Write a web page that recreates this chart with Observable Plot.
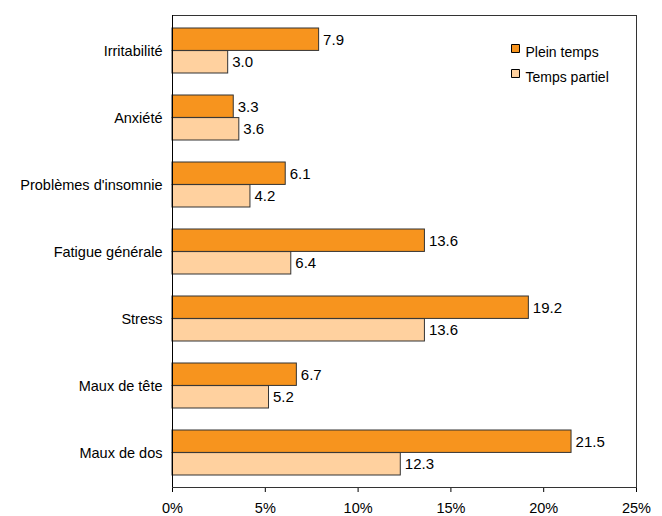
<!DOCTYPE html>
<html>
<head>
<meta charset="utf-8">
<script src="https://cdn.jsdelivr.net/npm/d3@7"></script>
<script src="https://cdn.jsdelivr.net/npm/@observablehq/plot@0.6"></script>
<style>
  html, body { margin: 0; padding: 0; background: #fff; }
</style>
</head>
<body>
<div id="chart"></div>
<script>
const categories = ["Irritabilité", "Anxiété", "Problèmes d'insomnie", "Fatigue générale", "Stress", "Maux de tête", "Maux de dos"];
const series = ["Plein temps", "Temps partiel"];
const pleinTemps = [7.9, 3.3, 6.1, 13.6, 19.2, 6.7, 21.5];
const tempsPartiel = [3.0, 3.6, 4.2, 6.4, 13.6, 5.2, 12.3];
const xTicks = [0, 5, 10, 15, 20, 25];
const colors = ["#F7941E", "#FFD19F"];

const rows = [];
categories.forEach((c, i) => {
  rows.push({category: c, series: series[0], value: pleinTemps[i]});
  rows.push({category: c, series: series[1], value: tempsPartiel[i]});
});
const full = rows.filter(d => d.series === series[0]);
const part = rows.filter(d => d.series === series[1]);

const W = 662, H = 516;
const mt = 15, mb = 29;
const innerH = H - mt - mb;
const step = innerH / categories.length;
const bandH = step * (1 - 0.33);
const half = bandH / 2;

const legendMarks = series.flatMap((s, i) => [
  Plot.dot([s], {frameAnchor: "top-right", dx: -121, dy: 33 + 25 * i, symbol: "square", r: 4.5, fill: d => d, stroke: "#000", strokeWidth: 1}),
  Plot.text([s], {frameAnchor: "top-right", dx: -111, dy: 32 + 25 * i, text: d => d, textAnchor: "start", fontSize: 14, fill: "#000"})
]);

const chart = Plot.plot({
  width: W,
  height: H,
  marginLeft: 172,
  marginRight: 26,
  marginTop: mt,
  marginBottom: mb,
  style: {fontFamily: "'Liberation Sans', Arial, sans-serif", fontSize: "14.5px", color: "#000", background: "#fff"},
  x: {domain: [0, 25], ticks: xTicks, tickFormat: d => d + "%", tickSize: 5, tickPadding: 10, label: null},
  y: {domain: categories, paddingInner: 0.33, paddingOuter: 0.165, tickSize: 0, tickPadding: 10, label: null},
  color: {domain: series, range: colors},
  marks: [
    Plot.frame({stroke: "#333", strokeWidth: 1}),
    Plot.barX(full, {y: "category", x: "value", fill: "series", stroke: "#333", strokeWidth: 1, insetBottom: half}),
    Plot.barX(part, {y: "category", x: "value", fill: "series", stroke: "#333", strokeWidth: 1, insetTop: half}),
    Plot.text(full, {y: "category", x: "value", text: d => d.value.toFixed(1), dx: 4, dy: -half / 2, textAnchor: "start", fontSize: 15, fill: "#000"}),
    Plot.text(part, {y: "category", x: "value", text: d => d.value.toFixed(1), dx: 4, dy: half / 2, textAnchor: "start", fontSize: 15, fill: "#000"}),
    Plot.ruleX([0], {stroke: "#000"}),
    ...legendMarks
  ]
});
document.getElementById("chart").appendChild(chart);
</script>
</body>
</html>
